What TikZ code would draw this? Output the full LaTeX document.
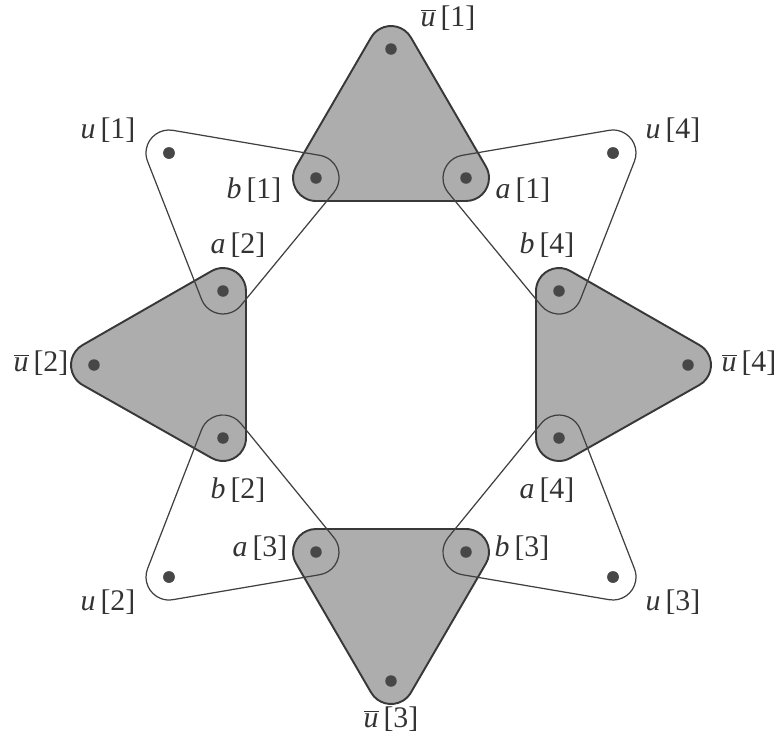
\documentclass[tikz,border=0pt]{standalone}
\usepackage{fontspec}
\setmainfont{Liberation Serif}
\usetikzlibrary{calc}
\newcommand{\hullr}{0.46cm}
\newcommand{\ubar}{$\overline{\mbox{\textit{u}}}$}
% rounded hull round three vertices, given counterclockwise
\newcommand{\hedge}[4][]{%
  \draw[#1] let \p1=(#2), \p2=(#3), \p3=(#4),
    \n1={atan2(\y2-\y1,\x2-\x1)}, \n2={atan2(\y3-\y2,\x3-\x2)},
    \n3={atan2(\y1-\y3,\x1-\x3)} in
    ($(#2)+(\n3-90:\hullr)$) arc[start angle=\n3-90, delta angle={mod(\n1-\n3+720,360)}, radius=\hullr]
    -- ($(#3)+(\n1-90:\hullr)$) arc[start angle=\n1-90, delta angle={mod(\n2-\n1+720,360)}, radius=\hullr]
    -- ($(#4)+(\n2-90:\hullr)$) arc[start angle=\n2-90, delta angle={mod(\n3-\n2+720,360)}, radius=\hullr]
    -- cycle;}

\begin{document}
\begin{tikzpicture}[x=0.02cm, y=0.02cm,
  dot/.style={circle, fill=black!72, inner sep=0pt, minimum size=0.23cm},
  lbl/.style={font=\fontsize{17}{17}\selectfont, inner sep=0pt, text=black!80},
  grayedge/.style={fill=black!32, draw=black!78, line width=1.1pt},
  whiteedge/.style={draw=black!75, line width=0.7pt}]
  \useasboundingbox (-391,-380) rectangle (392,365);

  % vertices
  \node[dot] (ub1) at (0,316) {};
  \node[dot] (b1) at (-75,187) {};
  \node[dot] (a1) at (75,187) {};
  \node[dot] (ub2) at (-297,0) {};
  \node[dot] (a2) at (-168,74) {};
  \node[dot] (b2) at (-168,-73) {};
  \node[dot] (ub3) at (0,-316) {};
  \node[dot] (a3) at (-75,-187) {};
  \node[dot] (b3) at (75,-187) {};
  \node[dot] (ub4) at (297,0) {};
  \node[dot] (b4) at (168,74) {};
  \node[dot] (a4) at (168,-73) {};
  \node[dot] (u1) at (-222,212) {};
  \node[dot] (u4) at (222,212) {};
  \node[dot] (u2) at (-222,-212) {};
  \node[dot] (u3) at (222,-212) {};

  % hyperedges
  \hedge[grayedge]{b1}{a1}{ub1}
  \hedge[grayedge]{ub2}{b2}{a2}
  \hedge[grayedge]{ub3}{b3}{a3}
  \hedge[grayedge]{ub4}{b4}{a4}
  \hedge[whiteedge]{u1}{a2}{b1}
  \hedge[whiteedge]{u4}{a1}{b4}
  \hedge[whiteedge]{u2}{a3}{b2}
  \hedge[whiteedge]{u3}{a4}{b3}
  % redraw dots on top
  \foreach \v in {ub1,b1,a1,ub2,a2,b2,ub3,a3,b3,ub4,b4,a4,u1,u2,u3,u4}
    \fill[black!72] (\v) circle (0.115cm);

  % labels
  \node[lbl] (lub1) at ($(ub1)+(57,31)$) {\ubar\,[1]};
  \node[lbl] (lu1) at ($(u1)+(-61,23)$) {\textit{u}\,[1]};
  \node[lbl] (lb1) at ($(b1)+(-62,-12)$) {\textit{b}\,[1]};
  \node[lbl] (la1) at ($(a1)+(57,-12)$) {\textit{a}\,[1]};
  \node[lbl] (lu4) at ($(u4)+(60,23)$) {\textit{u}\,[4]};
  \node[lbl] (la2) at ($(a2)+(15,46)$) {\textit{a}\,[2]};
  \node[lbl] (lb4) at ($(b4)+(-12,46)$) {\textit{b}\,[4]};
  \node[lbl] (lub2) at ($(ub2)+(-53,2)$) {\ubar\,[2]};
  \node[lbl] (lub4) at ($(ub4)+(61,2)$) {\ubar\,[4]};
  \node[lbl] (lb2) at ($(b2)+(15,-52)$) {\textit{b}\,[2]};
  \node[lbl] (la4) at ($(a4)+(-12,-52)$) {\textit{a}\,[4]};
  \node[lbl] (la3) at ($(a3)+(-56,4)$) {\textit{a}\,[3]};
  \node[lbl] (lb3) at ($(b3)+(56,4)$) {\textit{b}\,[3]};
  \node[lbl] (lu2) at ($(u2)+(-61,-25)$) {\textit{u}\,[2]};
  \node[lbl] (lu3) at ($(u3)+(60,-25)$) {\textit{u}\,[3]};
  \node[lbl] (lub3) at ($(ub3)+(0,-38)$) {\ubar\,[3]};
\end{tikzpicture}
\end{document}
